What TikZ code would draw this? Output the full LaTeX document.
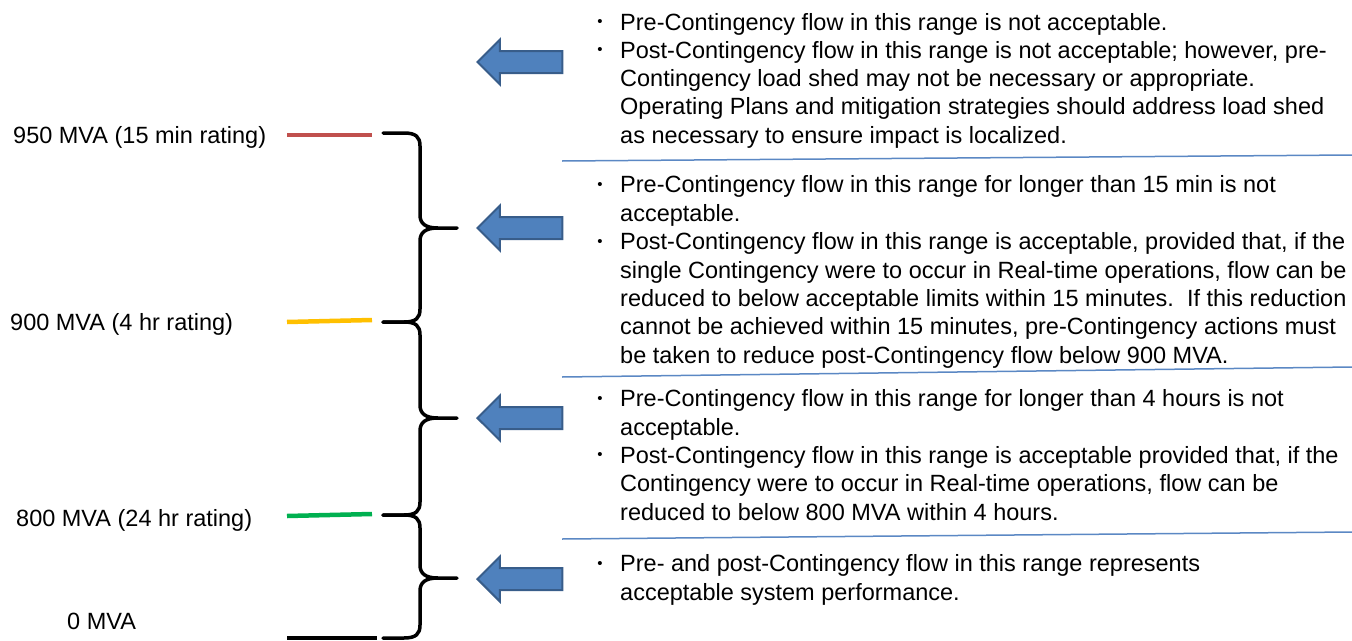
\documentclass[tikz,border=0pt]{standalone}
\usepackage{fontspec}
\setmainfont{Liberation Sans}
\usetikzlibrary{shapes.arrows,positioning}
\definecolor{lvlred}{HTML}{C0504D}
\definecolor{lvlyellow}{HTML}{FFC000}
\definecolor{lvlgreen}{HTML}{00B050}
\definecolor{arrfill}{HTML}{4F81BD}
\definecolor{arrline}{HTML}{385D8A}
\definecolor{sepblue}{HTML}{5B88C4}
\tikzset{
  txt/.style={font=\fontsize{23.5}{28.3}\selectfont, inner sep=0pt},
  itm/.style={txt, align=left, anchor=base west},
  bul/.style={font=\fontsize{15}{18}\selectfont, inner sep=0pt, anchor=center},
  lbl/.style={txt, anchor=base west},
  lvl/.style={line width=4.5pt},
  brc/.style={line width=3.5pt, line join=round, line cap=round},
  sep/.style={sepblue, line width=1.5pt},
  rangearrow/.style={single arrow, shape border rotate=180, fill=arrfill,
    draw=arrline, line width=2pt, minimum height=85pt, minimum width=43pt,
    text height=10pt, text depth=10pt, text width=0pt,
    single arrow head extend=11.5pt, single arrow tip angle=90, inner sep=0pt,
    anchor=tip},
}
\begin{document}
\begin{tikzpicture}[x=1pt,y=-1pt]
\fill[white] (0,0) rectangle (1352,640);
\useasboundingbox (0,0) rectangle (1352,640);

% ratings on the left
\node[lbl] (l950) at (13,143) {950 MVA (15 min rating)};
\node[lbl] (l900) at (10,330) {900 MVA (4 hr rating)};
\node[lbl] (l800) at (16,526) {800 MVA (24 hr rating)};
\node[lbl] (l0) at (67,629) {0 MVA};
\draw[lvl,lvlred] (287,135) -- (372,135);
\draw[lvl,lvlyellow] (287,322) -- (372,320);
\draw[lvl,lvlgreen] (287,516) -- (372,514);
\draw[lvl,black] (287,638) -- (377,638);

% braces
\foreach \t/\m/\b in {133/228/322, 322/418/515, 515/578/638}{
  \draw[brc] (383,\t) -- (404,\t) .. controls (416,\t) and (420,\t+4) .. (420,\t+13)
    -- (420,\m-13) .. controls (420,\m-4) and (426,\m) .. (438,\m) -- (457,\m)
    -- (438,\m) .. controls (426,\m) and (420,\m+4) .. (420,\m+13)
    -- (420,\b-13) .. controls (420,\b-4) and (416,\b) .. (404,\b) -- (383,\b);
}

% arrows
\node[rangearrow] (a1) at (476,62) {};
\node[rangearrow] (a2) at (476,228) {};
\node[rangearrow] (a3) at (476,418) {};
\node[rangearrow] (a4) at (476,579) {};

% separators
\draw[sep] (562,161) -- (1352,155);
\draw[sep] (562,377) -- (1352,367);
\draw[sep] (562,539) -- (1352,532);

% above 950 (multi-line nodes sit on their last baseline)
\node[bul] (b1a) at (600,23) {•};
\node[itm] (t1a) at (620,30) {Pre-Contingency flow in this range is not acceptable.};
\node[bul] (b1b) at (600,51) {•};
\node[itm] (t1b) at (620,143) {Post-Contingency flow in this range is not acceptable; however, pre-\\
Contingency load shed may not be necessary or appropriate.\\
Operating Plans and mitigation strategies should address load shed\\
as necessary to ensure impact is localized.};

% 900 to 950
\node[bul] (b2a) at (600,186) {•};
\node[itm] (t2a) at (620,221) {Pre-Contingency flow in this range for longer than 15 min is not\\
acceptable.};
\node[bul] (b2b) at (600,243) {•};
\node[itm] (t2b) at (620,363) {Post-Contingency flow in this range is acceptable, provided that, if the\\
single Contingency were to occur in Real-time operations, flow can be\\
reduced to below acceptable limits within 15 minutes.\ \ If this reduction\\
cannot be achieved within 15 minutes, pre-Contingency actions must\\
be taken to reduce post-Contingency flow below 900 MVA.};

% 800 to 900
\node[bul] (b3a) at (600,400) {•};
\node[itm] (t3a) at (620,435) {Pre-Contingency flow in this range for longer than 4 hours is not\\
acceptable.};
\node[bul] (b3b) at (600,456) {•};
\node[itm] (t3b) at (620,520) {Post-Contingency flow in this range is acceptable provided that, if the\\
Contingency were to occur in Real-time operations, flow can be\\
reduced to below 800 MVA within 4 hours.};

% 0 to 800
\node[bul] (b4a) at (600,565) {•};
\node[itm] (t4a) at (620,600) {Pre- and post-Contingency flow in this range represents\\
acceptable system performance.};
\end{tikzpicture}
\end{document}
